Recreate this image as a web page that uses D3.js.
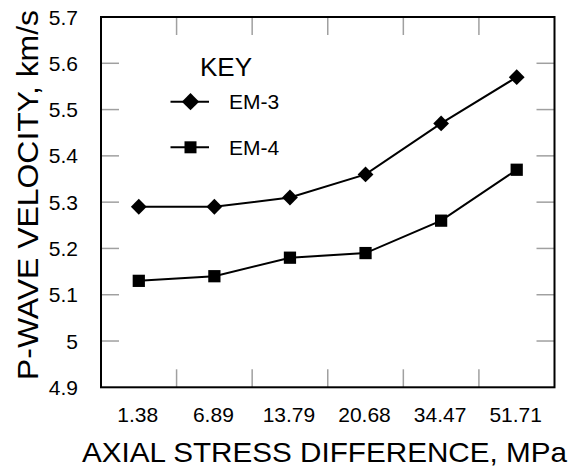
<!DOCTYPE html>
<html><head><meta charset="utf-8">
<script src="https://cdn.jsdelivr.net/npm/d3@7"></script>
<style>body{margin:0;background:#fff}svg{display:block}text{font-family:Arial,"Liberation Sans",sans-serif;fill:#000}</style>
</head><body><svg id="c" width="580" height="468"></svg>
<script>
const categories = ["1.38","6.89","13.79","20.68","34.47","51.71"];
const em3 = [5.29,5.29,5.31,5.36,5.47,5.57];
const em4 = [5.13,5.14,5.18,5.19,5.26,5.37];
const yTicks = [4.9,5,5.1,5.2,5.3,5.4,5.5,5.6,5.7];
const seriesNames = ["EM-3","EM-4"];

const svg = d3.select("#c");
const L=101, R=554.5, T=17, B=387.3;
const x = d3.scaleBand().domain(categories).range([L,R]);
const y = d3.scaleLinear().domain([4.9,5.7]).range([B,T]);
const tickLen = 18, tickCol = "#a0a0a0";

// inner tick marks
const g = svg.append("g");
yTicks.slice(1,-1).forEach(v=>{
  g.append("line").attr("x1",L).attr("x2",L+tickLen).attr("y1",y(v)).attr("y2",y(v)).attr("stroke",tickCol).attr("stroke-width",1.5);
  g.append("line").attr("x1",R-tickLen).attr("x2",R).attr("y1",y(v)).attr("y2",y(v)).attr("stroke",tickCol).attr("stroke-width",1.5);
});
categories.slice(1).forEach(c=>{
  const xv = x(c);
  g.append("line").attr("x1",xv).attr("x2",xv).attr("y1",B).attr("y2",B-tickLen).attr("stroke",tickCol).attr("stroke-width",1.5);
  g.append("line").attr("x1",xv).attr("x2",xv).attr("y1",T).attr("y2",T+tickLen).attr("stroke",tickCol).attr("stroke-width",1.5);
});

// frame
svg.append("rect").attr("x",L).attr("y",T).attr("width",R-L).attr("height",B-T).attr("fill","none").attr("stroke","#000").attr("stroke-width",2);

// tick labels
svg.append("g").selectAll("text").data(yTicks).join("text")
  .attr("x",78).attr("y",d=>y(d)).attr("dy","0.36em").attr("text-anchor","end")
  .attr("font-size",21).text(d=>d3.format("")(d));
svg.append("g").selectAll("text").data(categories).join("text")
  .attr("x",d=>x(d)+x.bandwidth()/2-1).attr("y",422).attr("text-anchor","middle")
  .attr("font-size",21).text(d=>d);

// axis titles
svg.append("text").attr("x",324.5).attr("y",461.5).attr("text-anchor","middle")
  .attr("font-size",28).attr("textLength",485).attr("lengthAdjust","spacingAndGlyphs")
  .text("AXIAL STRESS DIFFERENCE, MPa");
svg.append("text").attr("transform","translate(38,195) rotate(-90)").attr("text-anchor","middle")
  .attr("font-size",29).attr("textLength",370).attr("lengthAdjust","spacingAndGlyphs")
  .text("P-WAVE VELOCITY, km/s");

// lines
const line = d3.line().x((d,i)=>x(categories[i])+x.bandwidth()/2).y(d=>y(d));
const sym3 = d3.symbol().type(d3.symbolSquare).size(125);
const symSq = d3.symbol().type(d3.symbolSquare).size(150);
[[em3,"diamond"],[em4,"square"]].forEach(([data,type])=>{
  svg.append("path").attr("d",line(data)).attr("fill","none").attr("stroke","#000").attr("stroke-width",2);
  svg.append("g").selectAll("path").data(data).join("path")
    .attr("transform",(d,i)=>`translate(${x(categories[i])+x.bandwidth()/2},${y(d)})`+(type==="diamond"?" rotate(45)":""))
    .attr("d",type==="diamond"?sym3():symSq()).attr("fill","#000");
});

// legend
svg.append("text").attr("x",200).attr("y",75.5).attr("font-size",26).text("KEY");
const leg = [{name:seriesNames[0],type:"diamond",y:101.7},{name:seriesNames[1],type:"square",y:147.3}];
leg.forEach(l=>{
  svg.append("line").attr("x1",170.5).attr("x2",209).attr("y1",l.y).attr("y2",l.y).attr("stroke","#000").attr("stroke-width",2);
  svg.append("path").attr("transform",`translate(190.5,${l.y})`+(l.type==="diamond"?" rotate(45)":""))
    .attr("d",l.type==="diamond"?d3.symbol().type(d3.symbolSquare).size(150)():d3.symbol().type(d3.symbolSquare).size(144)()).attr("fill","#000");
  svg.append("text").attr("x",229).attr("y",l.y+7.5).attr("font-size",21).text(l.name);
});
</script></body></html>
